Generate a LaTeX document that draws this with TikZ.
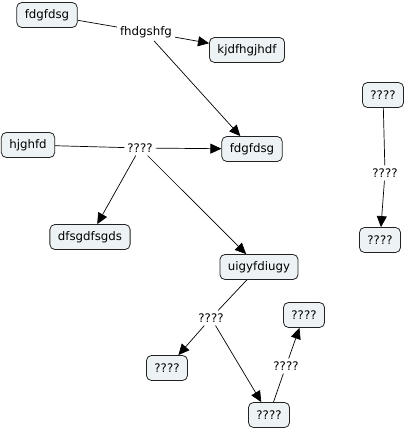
\documentclass[tikz,border=0pt]{standalone}
\usepackage{fontspec}
\setmainfont{DejaVu Sans}
\usetikzlibrary{arrows.meta}
\definecolor{boxfill}{HTML}{EDF3F5}
\definecolor{boxline}{HTML}{222222}
\begin{document}
\begin{tikzpicture}[x=1pt,y=-1pt,
  concept/.style={draw=boxline,fill=boxfill,rounded corners=5pt,line width=0.8pt,
    minimum height=25pt,inner xsep=8pt,inner ysep=2pt,font=\fontsize{11.8}{14}\selectfont},
  lbl/.style={inner sep=3pt,font=\fontsize{11.8}{14}\selectfont},
  link/.style={line width=0.7pt,draw=black},
  arr/.style={link,-{Triangle[length=11pt,width=10pt]}}]
\useasboundingbox (0,0) rectangle (408,430);
\node[concept] (a) at (47,15) {fdgfdsg};
\node[lbl] (l1) at (146,32) {fhdgshfg};
\node[concept] (b) at (247,50) {kjdfhgjhdf};
\node[concept] (c) at (252,149) {fdgfdsg};
\node[concept] (d) at (28,145) {hjghfd};
\node[lbl] (l2) at (140,148) {????};
\node[concept] (e) at (90,237) {dfsgdfsgds};
\node[concept] (f) at (259,267) {uigyfdiugy};
\node[lbl] (l3) at (211,318) {????};
\node[concept] (g) at (167,368) {????};
\node[concept] (h) at (269,415) {????};
\node[lbl] (l4) at (286,366) {????};
\node[concept] (i) at (304,315) {????};
\node[concept] (j) at (383,95) {????};
\node[lbl] (l5) at (385,173) {????};
\node[concept] (k) at (380,240) {????};
\draw[link] (a) -- (l1);
\draw[arr] (l1) -- (b);
\draw[arr] (l1) -- (c);
\draw[link] (d) -- (l2);
\draw[arr] (l2) -- (c);
\draw[arr] (l2) -- (e);
\draw[arr] (l2) -- (f);
\draw[link] (f) -- (l3);
\draw[arr] (l3) -- (g);
\draw[arr] (l3) -- (h);
\draw[link] (h) -- (l4);
\draw[arr] (l4) -- (i);
\draw[link] (j) -- (l5);
\draw[arr] (l5) -- (k);
\end{tikzpicture}
\end{document}
